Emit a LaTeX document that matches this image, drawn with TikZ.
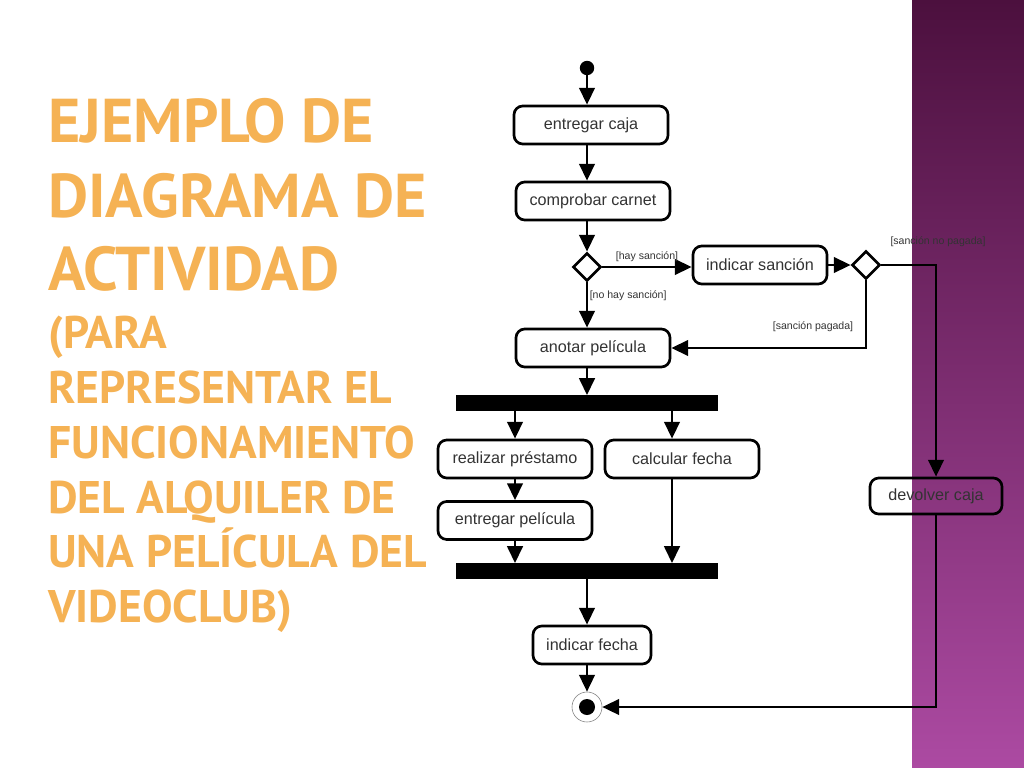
\documentclass[tikz,border=0pt]{standalone}
\usepackage{fontspec}
\setmainfont{Liberation Sans}
\newfontfamily\titlefont{PT Sans}
\usetikzlibrary{positioning, arrows.meta, shapes.geometric}
\definecolor{titleorange}{RGB}{245,178,84}
\definecolor{bandtop}{RGB}{76,16,62}
\definecolor{bandmid}{RGB}{118,34,106}
\definecolor{bandbottom}{RGB}{172,74,162}

\begin{document}
\begin{tikzpicture}[
    x=0.025cm, y=-0.025cm,
    activity/.style={draw, rectangle, rounded corners=0.22cm, line width=1.9pt, minimum width=3.85cm, minimum height=0.95cm, inner sep=0pt, font=\fontsize{11.5}{12}\selectfont, text=black!80},
    decision/.style={draw, diamond, line width=1.9pt, fill=white, minimum size=0.7cm, inner sep=0pt},
    bar/.style={fill=black, rectangle, minimum width=6.55cm, minimum height=0.38cm, inner sep=0pt},
    guard/.style={font=\fontsize{7.5}{8}\selectfont, text=black!80, inner sep=1pt},
    bigtitle/.style={anchor=base west, inner sep=0pt, text=titleorange, font=\titlefont\bfseries\fontsize{44}{44}\selectfont},
    smalltitle/.style={anchor=base west, inner sep=0pt, text=titleorange, font=\titlefont\bfseries\fontsize{32.5}{32}\selectfont},
    arrow/.style={-{Triangle[length=12pt, width=11pt]}, line width=1.9pt}
]
\useasboundingbox (0,0) rectangle (1024,768);
\fill[white] (0,0) rectangle (1024,768);
\shade[top color=bandtop, middle color=bandmid, bottom color=bandbottom] (912,0) rectangle (1024,768);

% title
\node[bigtitle] (t1) at (48,143) {EJEMPLO DE};
\node[bigtitle] (t2) at (48,217) {DIAGRAMA DE};
\node[bigtitle] (t3) at (48,290) {ACTIVIDAD};
\node[smalltitle] (t4) at (48,348) {(PARA};
\node[smalltitle] (t5) at (48,403) {REPRESENTAR EL};
\node[smalltitle] (t6) at (48,458) {FUNCIONAMIENTO};
\node[smalltitle] (t7) at (48,513) {DEL ALQUILER DE};
\node[smalltitle] (t8) at (48,567) {UNA PELÍCULA DEL};
\node[smalltitle] (t9) at (48,622) {VIDEOCLUB)};

% activities
\node[circle, fill, minimum size=0.36cm, inner sep=0pt] (start) at (587,68) {};
\node[activity] (1) at (591,125) {entregar caja};
\node[activity] (2) at (593,201) {comprobar carnet};
\node[decision] (d1) at (587,267) {};
\node[activity, minimum width=3.35cm] (3) at (760,265) {indicar sanción};
\node[decision] (d2) at (866,265) {};
\node[activity] (4) at (593,348) {anotar película};
\node[bar] (fork) at (587,403) {};
\node[activity] (6) at (515,459) {realizar préstamo};
\node[activity] (7) at (682,459) {calcular fecha};
\node[activity, below=0.52cm of 6] (8) {entregar película};
\node[bar] (join) at (587,571) {};
\node[activity, minimum width=2.95cm] (9) at (592,645) {indicar fecha};
\node[activity, minimum width=3.3cm, minimum height=0.9cm] (5) at (936,496) {devolver caja};
\node[circle, draw=black!50, thin, minimum size=0.75cm, inner sep=0pt] (end) at (587,707) {};
\fill (end) circle (0.2cm);

\draw[arrow] (start) -- (start |- 1.north);
\draw[arrow] (start |- 1.south) -- (start |- 2.north);
\draw[arrow] (d1 |- 2.south) -- (d1.north);
\draw[arrow] (d1.east) -- (d1.east -| 3.west) node[guard, midway, above=2pt] {[hay sanción]};
\draw[arrow] (d1.south) -- (d1 |- 4.north) node[guard, pos=0.3, right] {[no hay sanción]};
\draw[arrow] (3.east) -- (d2.west);
\draw[arrow] (d2.east) -| (5.north);
\node[guard] (g1) at (938,242) {[sanción no pagada]};
\draw[arrow] (d2.south) |- (4.east);
\node[guard] (g2) at (813,327) {[sanción pagada]};
\draw[arrow] (d1 |- 4.south) -- (d1 |- fork.north);
\draw[arrow] (6.north |- fork.south) -- (6.north);
\draw[arrow] ([xshift=-0.25cm]7.north |- fork.south) -- ([xshift=-0.25cm]7.north);
\draw[arrow] (6.south) -- (8.north);
\draw[arrow] (8.south) -- (8.south |- join.north);
\draw[arrow] ([xshift=-0.25cm]7.south) -- ([xshift=-0.25cm]7.south |- join.north);
\draw[arrow] (d1 |- join.south) -- (d1 |- 9.north);
\draw[arrow] (d1 |- 9.south) -- (end.north);
\draw[arrow] (5.south) |- (end.east);

\end{tikzpicture}
\end{document}
